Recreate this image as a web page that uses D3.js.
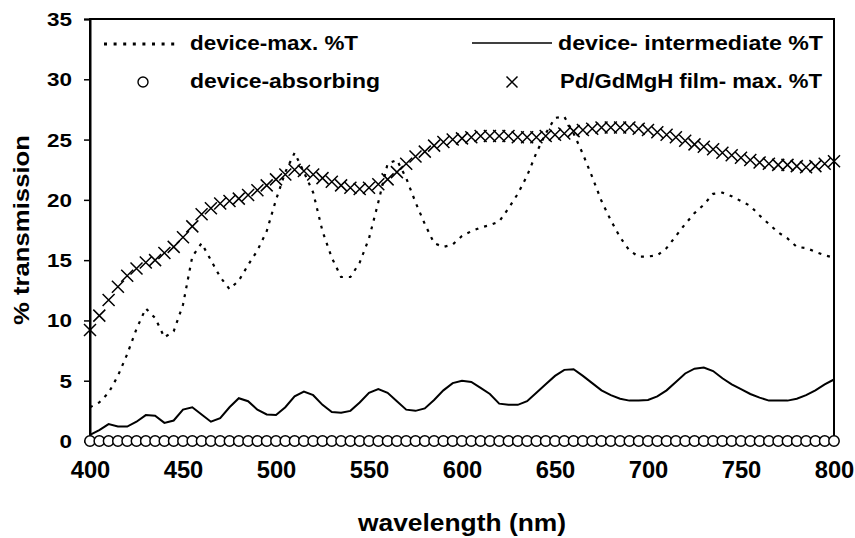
<!DOCTYPE html>
<html><head><meta charset="utf-8">
<script src="https://cdn.jsdelivr.net/npm/d3@7"></script>
<style>
body{margin:0;background:#fff}
text{font-family:"Liberation Sans",Arial,Helvetica,sans-serif;font-weight:bold;fill:#000}
</style>
</head><body><svg id="c" width="855" height="538"></svg>
<script>
// ---------- data ----------
const wavelengths = [400,405,410,415,420,425,430,435,440,445,450,455,460,465,470,475,480,485,490,495,
  500,505,510,515,520,525,530,535,540,545,550,555,560,565,570,575,580,585,590,595,
  600,605,610,615,620,625,630,635,640,645,650,655,660,665,670,675,680,685,690,695,
  700,705,710,715,720,725,730,735,740,745,750,755,760,765,770,775,780,785,790,795,800];

const deviceMax = [2.8,3.2,4.0,5.4,7.2,9.3,11.0,10.2,8.6,9.1,11.3,15.3,16.4,15.0,13.6,12.6,13.3,14.6,15.8,17.4,
  20.0,22.3,23.9,22.3,20.6,17.4,15.2,13.6,13.6,14.8,16.8,19.8,23.0,23.3,21.8,19.8,18.0,16.4,16.1,16.3,
  17.0,17.4,17.7,17.9,18.2,19.3,20.5,22.0,23.9,25.5,26.8,26.9,25.5,23.8,21.9,19.9,18.3,16.9,15.8,15.3,
  15.3,15.4,16.0,17.0,18.0,18.9,19.6,20.5,20.6,20.3,19.9,19.5,18.7,18.0,17.3,16.8,16.1,16.0,15.7,15.4,15.2];

const deviceIntermediate = [0.5,0.9,1.4,1.2,1.2,1.6,2.15,2.1,1.5,1.7,2.6,2.8,2.2,1.6,1.9,2.8,3.55,3.3,2.6,2.2,
  2.15,2.8,3.7,4.1,3.8,3.0,2.4,2.35,2.5,3.2,4.0,4.3,4.0,3.3,2.6,2.5,2.7,3.4,4.2,4.8,
  5.0,4.9,4.4,3.9,3.1,3.0,3.0,3.3,4.0,4.7,5.4,5.9,5.95,5.4,4.8,4.2,3.8,3.5,3.35,3.35,
  3.4,3.7,4.2,4.9,5.6,6.0,6.1,5.8,5.2,4.7,4.3,3.9,3.6,3.35,3.35,3.35,3.5,3.8,4.2,4.7,5.1];

const deviceAbsorbing = [0,0,0,0,0,0,0,0,0,0,0,0,0,0,0,0,0,0,0,0,
  0,0,0,0,0,0,0,0,0,0,0,0,0,0,0,0,0,0,0,0,
  0,0,0,0,0,0,0,0,0,0,0,0,0,0,0,0,0,0,0,0,
  0,0,0,0,0,0,0,0,0,0,0,0,0,0,0,0,0,0,0,0,0];

const filmMax = [9.2,10.4,11.7,12.8,13.7,14.3,14.8,15.0,15.6,16.1,16.9,17.8,18.8,19.3,19.7,19.9,20.1,20.4,20.8,21.2,
  21.7,22.1,22.5,22.4,22.1,21.8,21.5,21.2,21.0,20.9,21.0,21.3,21.7,22.3,23.0,23.6,24.0,24.5,24.8,25.0,
  25.1,25.2,25.3,25.3,25.3,25.3,25.2,25.2,25.2,25.3,25.4,25.5,25.7,25.8,25.9,26.0,26.0,26.0,26.0,25.9,
  25.8,25.6,25.4,25.2,24.9,24.6,24.4,24.2,23.9,23.7,23.5,23.3,23.1,23.0,22.9,22.9,22.8,22.7,22.8,23.0,23.2];

const xTicks = [400,450,500,550,600,650,700,750,800];
const yTicks = [0,5,10,15,20,25,30,35];
const seriesNames = ["device-max. %T","device- intermediate %T","device-absorbing","Pd/GdMgH film- max. %T"];
const xTitle = "wavelength (nm)";
const yTitle = "% transmission";

// ---------- layout ----------
const svg = d3.select("#c");
const L = 90, R = 834, T = 19, B = 441;
const x = d3.scaleLinear().domain([400,800]).range([L,R]);
const y = d3.scaleLinear().domain([0,35]).range([B,T]);

// frame
svg.append("rect").attr("x",L).attr("y",T).attr("width",R-L).attr("height",B-T)
  .attr("fill","none").attr("stroke","#000").attr("stroke-width",2);

// y axis
const gy = svg.append("g").attr("transform",`translate(${L},0)`)
  .call(d3.axisLeft(y).tickValues(yTicks).tickSize(6).tickPadding(12).tickFormat(d3.format("d")));
gy.select(".domain").attr("stroke","#000").attr("stroke-width",2);
gy.selectAll(".tick line").attr("stroke","#000").attr("stroke-width",1.5);
gy.selectAll(".tick text").attr("font-size",18).attr("font-family",null).attr("fill","#000")
  .attr("dy","0.36em")
  .attr("textLength",d=>String(d).length*12.5).attr("lengthAdjust","spacingAndGlyphs");

// x axis
const gx = svg.append("g").attr("transform",`translate(0,${B})`)
  .call(d3.axisBottom(x).tickValues(xTicks).tickSize(0).tickPadding(20).tickFormat(d3.format("d")));
gx.select(".domain").attr("stroke","#000").attr("stroke-width",2);
gx.selectAll(".tick text").attr("font-size",23).attr("font-family",null).attr("fill","#000")
  .attr("dy","0.72em")
  .attr("textLength",d=>String(d).length*13.2).attr("lengthAdjust","spacingAndGlyphs");

// titles
svg.append("text").attr("x",(L+R)/2).attr("y",531).attr("text-anchor","middle")
  .attr("font-size",23).attr("textLength",208).attr("lengthAdjust","spacingAndGlyphs").text(xTitle);
svg.append("text").attr("transform",`translate(29,${(T+B)/2}) rotate(-90)`).attr("text-anchor","middle")
  .attr("font-size",22).attr("textLength",190).attr("lengthAdjust","spacingAndGlyphs").text(yTitle);

// ---------- series ----------
const pts = vals => wavelengths.map((w,i)=>[w,vals[i]]);
const line = d3.line().x(d=>x(d[0])).y(d=>y(d[1]));

svg.append("path").datum(pts(deviceMax)).attr("d",line)
  .attr("fill","none").attr("stroke","#000").attr("stroke-width",2.2).attr("stroke-dasharray","3,6");

svg.append("path").datum(pts(deviceIntermediate)).attr("d",line)
  .attr("fill","none").attr("stroke","#000").attr("stroke-width",2);

svg.append("g").selectAll("circle").data(pts(deviceAbsorbing)).join("circle")
  .attr("cx",d=>x(d[0])).attr("cy",d=>y(d[1])).attr("r",5.2)
  .attr("fill","#fff").attr("stroke","#000").attr("stroke-width",1.5);

const xm = 6;
svg.append("g").selectAll("path").data(pts(filmMax)).join("path")
  .attr("d",d=>{const cx=x(d[0]),cy=y(d[1]);return `M${cx-xm},${cy-xm}L${cx+xm},${cy+xm}M${cx-xm},${cy+xm}L${cx+xm},${cy-xm}`;})
  .attr("fill","none").attr("stroke","#000").attr("stroke-width",1.5);

// ---------- legend ----------
const lg = svg.append("g");
lg.append("line").attr("x1",104).attr("x2",180).attr("y1",44).attr("y2",44)
  .attr("stroke","#000").attr("stroke-width",3).attr("stroke-dasharray","3,6.6");
lg.append("text").attr("x",190).attr("y",50).attr("font-size",21)
  .attr("textLength",168).attr("lengthAdjust","spacingAndGlyphs").text(seriesNames[0]);

lg.append("line").attr("x1",472).attr("x2",552).attr("y1",43).attr("y2",43)
  .attr("stroke","#000").attr("stroke-width",1.5);
lg.append("text").attr("x",558).attr("y",50).attr("font-size",21)
  .attr("textLength",265).attr("lengthAdjust","spacingAndGlyphs").text(seriesNames[1]);

lg.append("circle").attr("cx",143).attr("cy",82).attr("r",5)
  .attr("fill","#fff").attr("stroke","#000").attr("stroke-width",1.4);
lg.append("text").attr("x",190).attr("y",88).attr("font-size",21)
  .attr("textLength",190).attr("lengthAdjust","spacingAndGlyphs").text(seriesNames[2]);

const lx = 512, ly = 82, ls = 5.5;
lg.append("path").attr("d",`M${lx-ls},${ly-ls}L${lx+ls},${ly+ls}M${lx-ls},${ly+ls}L${lx+ls},${ly-ls}`)
  .attr("stroke","#000").attr("stroke-width",1.5);
lg.append("text").attr("x",560).attr("y",88).attr("font-size",21)
  .attr("textLength",262).attr("lengthAdjust","spacingAndGlyphs").text(seriesNames[3]);
</script>
</body></html>
